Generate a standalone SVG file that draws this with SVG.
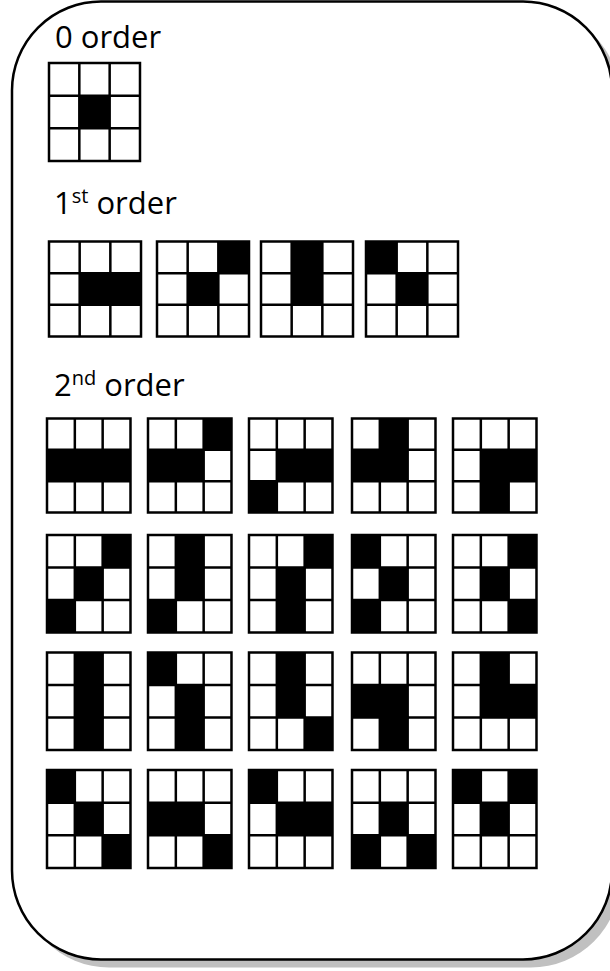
<svg xmlns="http://www.w3.org/2000/svg" xmlns:xlink="http://www.w3.org/1999/xlink" width="610" height="971" viewBox="0 0 610 971">
<style>
.t{font-family:"Open Sans","Liberation Sans",sans-serif;font-size:31px;fill:#000}
.k{fill:#000}
</style>
<defs>
<path id="lines" d="M0,0H3V3H0Z M1,0V3 M2,0V3 M0,1H3 M0,2H3" fill="none" stroke="#000" stroke-width="2.5" vector-effect="non-scaling-stroke"/>
</defs>
<rect x="20" y="9.5" width="600" height="958" rx="89" ry="89" fill="#c0c0c0"/>
<rect x="12" y="1.5" width="600" height="958" rx="89" ry="89" fill="#fff" stroke="#000" stroke-width="2.5"/>

<text class="t" x="55" y="48">0 order</text>
<text class="t" x="54" y="214">1<tspan font-size="20" dy="-11">st</tspan><tspan dy="11"> order</tspan></text>
<text class="t" x="54" y="396">2<tspan font-size="20" dy="-11">nd</tspan><tspan dy="11"> order</tspan></text>

<g id="o0" transform="translate(49,63) scale(30.33,32.67)"><rect class="k" x="1" y="1" width="1" height="1"/><use xlink:href="#lines"/></g>

<g id="o1a" transform="translate(49,241.5) scale(30.67,31.67)"><rect class="k" x="1" y="1" width="2" height="1"/><use xlink:href="#lines"/></g>
<g id="o1b" transform="translate(157,241.5) scale(30.67,31.67)"><rect class="k" x="2" y="0" width="1" height="1"/><rect class="k" x="1" y="1" width="1" height="1"/><use xlink:href="#lines"/></g>
<g id="o1c" transform="translate(261,241.5) scale(30.67,31.67)"><rect class="k" x="1" y="0" width="1" height="2"/><use xlink:href="#lines"/></g>
<g id="o1d" transform="translate(366,241.5) scale(30.67,31.67)"><rect class="k" x="0" y="0" width="1" height="1"/><rect class="k" x="1" y="1" width="1" height="1"/><use xlink:href="#lines"/></g>

<!-- 2nd order row 1 -->
<g id="r1a" transform="translate(47,418.5) scale(27.83,31.33)"><rect class="k" x="0" y="1" width="3" height="1"/><use xlink:href="#lines"/></g>
<g id="r1b" transform="translate(148,418.5) scale(27.83,31.33)"><rect class="k" x="2" y="0" width="1" height="1"/><rect class="k" x="0" y="1" width="2" height="1"/><use xlink:href="#lines"/></g>
<g id="r1c" transform="translate(249,418.5) scale(27.83,31.33)"><rect class="k" x="1" y="1" width="2" height="1"/><rect class="k" x="0" y="2" width="1" height="1"/><use xlink:href="#lines"/></g>
<g id="r1d" transform="translate(352,418.5) scale(27.83,31.33)"><rect class="k" x="1" y="0" width="1" height="1"/><rect class="k" x="0" y="1" width="2" height="1"/><use xlink:href="#lines"/></g>
<g id="r1e" transform="translate(453,418.5) scale(27.83,31.33)"><rect class="k" x="1" y="1" width="2" height="1"/><rect class="k" x="1" y="2" width="1" height="1"/><use xlink:href="#lines"/></g>

<!-- row 2 -->
<g id="r2a" transform="translate(47,535) scale(27.83,32.5)"><rect class="k" x="2" y="0" width="1" height="1"/><rect class="k" x="1" y="1" width="1" height="1"/><rect class="k" x="0" y="2" width="1" height="1"/><use xlink:href="#lines"/></g>
<g id="r2b" transform="translate(148,535) scale(27.83,32.5)"><rect class="k" x="1" y="0" width="1" height="2"/><rect class="k" x="0" y="2" width="1" height="1"/><use xlink:href="#lines"/></g>
<g id="r2c" transform="translate(249,535) scale(27.83,32.5)"><rect class="k" x="2" y="0" width="1" height="1"/><rect class="k" x="1" y="1" width="1" height="2"/><use xlink:href="#lines"/></g>
<g id="r2d" transform="translate(352,535) scale(27.83,32.5)"><rect class="k" x="0" y="0" width="1" height="1"/><rect class="k" x="1" y="1" width="1" height="1"/><rect class="k" x="0" y="2" width="1" height="1"/><use xlink:href="#lines"/></g>
<g id="r2e" transform="translate(453,535) scale(27.83,32.5)"><rect class="k" x="2" y="0" width="1" height="1"/><rect class="k" x="1" y="1" width="1" height="1"/><rect class="k" x="2" y="2" width="1" height="1"/><use xlink:href="#lines"/></g>

<!-- row 3 -->
<g id="r3a" transform="translate(47,652.5) scale(27.83,32.5)"><rect class="k" x="1" y="0" width="1" height="3"/><use xlink:href="#lines"/></g>
<g id="r3b" transform="translate(148,652.5) scale(27.83,32.5)"><rect class="k" x="0" y="0" width="1" height="1"/><rect class="k" x="1" y="1" width="1" height="2"/><use xlink:href="#lines"/></g>
<g id="r3c" transform="translate(249,652.5) scale(27.83,32.5)"><rect class="k" x="1" y="0" width="1" height="2"/><rect class="k" x="2" y="2" width="1" height="1"/><use xlink:href="#lines"/></g>
<g id="r3d" transform="translate(352,652.5) scale(27.83,32.5)"><rect class="k" x="0" y="1" width="2" height="1"/><rect class="k" x="1" y="2" width="1" height="1"/><use xlink:href="#lines"/></g>
<g id="r3e" transform="translate(453,652.5) scale(27.83,32.5)"><rect class="k" x="1" y="0" width="1" height="1"/><rect class="k" x="1" y="1" width="2" height="1"/><use xlink:href="#lines"/></g>

<!-- row 4 -->
<g id="r4a" transform="translate(47,770) scale(27.83,32.67)"><rect class="k" x="0" y="0" width="1" height="1"/><rect class="k" x="1" y="1" width="1" height="1"/><rect class="k" x="2" y="2" width="1" height="1"/><use xlink:href="#lines"/></g>
<g id="r4b" transform="translate(148,770) scale(27.83,32.67)"><rect class="k" x="0" y="1" width="2" height="1"/><rect class="k" x="2" y="2" width="1" height="1"/><use xlink:href="#lines"/></g>
<g id="r4c" transform="translate(249,770) scale(27.83,32.67)"><rect class="k" x="0" y="0" width="1" height="1"/><rect class="k" x="1" y="1" width="2" height="1"/><use xlink:href="#lines"/></g>
<g id="r4d" transform="translate(352,770) scale(27.83,32.67)"><rect class="k" x="1" y="1" width="1" height="1"/><rect class="k" x="0" y="2" width="1" height="1"/><rect class="k" x="2" y="2" width="1" height="1"/><use xlink:href="#lines"/></g>
<g id="r4e" transform="translate(453,770) scale(27.83,32.67)"><rect class="k" x="0" y="0" width="1" height="1"/><rect class="k" x="2" y="0" width="1" height="1"/><rect class="k" x="1" y="1" width="1" height="1"/><use xlink:href="#lines"/></g>
</svg>
